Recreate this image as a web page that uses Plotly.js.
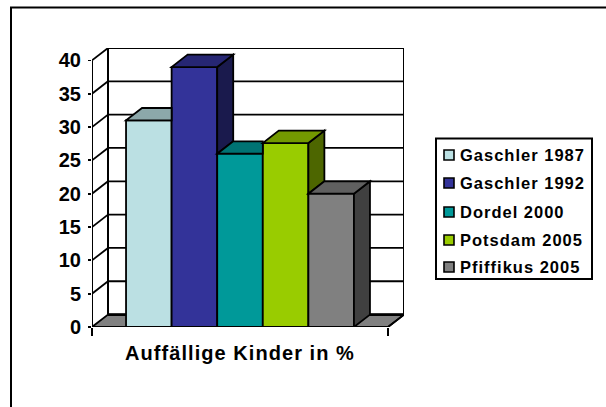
<!DOCTYPE html>
<html>
<head>
<meta charset="utf-8">
<script src="https://cdn.plot.ly/plotly-3.0.1.min.js"></script>
<style>html,body{margin:0;padding:0;background:#fff}#chart{width:606px;height:407px}
.xtick text{letter-spacing:1.05px}
.annotation-text{letter-spacing:1px}
</style>
</head>
<body>
<div id="chart"></div>
<script>
const category = "Auffällige Kinder in %";
const seriesNames = ["Gaschler 1987","Gaschler 1992","Dordel 2000","Potsdam 2005","Pfiffikus 2005"];
const seriesValues = [31, 39, 26, 27.6, 20];
const frontColors = ["#BBE0E3","#333399","#009999","#99CC00","#808080"];
const topColors   = ["#8CA8AA","#262673","#007373","#739900","#606060"];
const sideColors  = ["#5E7072","#1A1A4D","#004D4D","#4D6600","#404040"];
const yTicks = [0,5,10,15,20,25,30,35,40];

// plot frame in pixels
const L=92, R=404, T=48, B=327, W=606, H=407;
const frontW=296, depthPxX=16, depthPxY=12.4, unitPx=(327-60.7)/40;
const dx=depthPxX/frontW, dy=depthPxY/unitPx;
const bargap=0.23, bw=(1-bargap)/seriesNames.length;
const edge={color:"#000",width:1.8};
const xl=i=>-0.5+bargap/2+i*bw, xr=i=>xl(i)+bw;
const poly=p=>"M"+p.map(q=>q[0]+" "+q[1]).join(" L")+" Z";
const shape=(p,fill,layer,line)=>({type:"path",xref:"x",yref:"y",path:poly(p),fillcolor:fill,line:line||edge,layer:layer});
const seg=(x0,y0,x1,y1,w)=>({type:"line",xref:"x",yref:"y",x0,y0,x1,y1,layer:"below",line:{color:"#000",width:w||1.8}});

const shapes=[];
// walls, floor, grid
shapes.push(shape([[-0.5,0],[0.5,0],[0.5+dx,dy],[-0.5+dx,dy]],"#808080","below"));
yTicks.forEach(v=>{
  if(v>0) shapes.push(seg(-0.5,v,-0.5+dx,v+dy));
  if(v>0 && v<40) shapes.push(seg(-0.5+dx,v+dy,0.5+dx,v+dy));
});
shapes.push(seg(-0.5+dx,40+dy,0.5+dx,40+dy,2));
shapes.push(seg(-0.5+dx,dy,0.5+dx,dy,2.6));
shapes.push(seg(-0.5+dx,dy,-0.5+dx,40+dy,2));
shapes.push(seg(0.5+dx,dy,0.5+dx,40+dy,2));
shapes.push(seg(-0.5,0,-0.5,40,2));
shapes.push(seg(-0.5,0,0.5,0,2));
shapes.push(seg(0.5,0,0.5+dx,dy));
// visible top and side faces of each bar
seriesValues.forEach((v,i)=>{
  const nx=seriesValues[i+1];
  const base=(nx===undefined)?0:nx;
  if(nx!==undefined && nx>=v){
    shapes.push(shape([[xl(i),v],[xr(i),v],[xr(i),v+dy],[xl(i)+dx,v+dy]],topColors[i],"above"));
  }else{
    shapes.push(shape([[xr(i),v],[xr(i)+dx,v+dy],[xr(i)+dx,base+dy],[xr(i),base]],sideColors[i],"above"));
    shapes.push(shape([[xl(i),v],[xr(i),v],[xr(i)+dx,v+dy],[xl(i)+dx,v+dy]],topColors[i],"above"));
  }
});
// chart-area edge and legend frame
const px=(x)=>(x-L)/(R-L), py=(y)=>(B-y)/(B-T);
const rect=(x0,y0,x1,y1,fill,w)=>({type:"rect",xref:"paper",yref:"paper",x0:px(x0),x1:px(x1),y0:py(y0),y1:py(y1),fillcolor:fill,line:{color:"#000",width:w},layer:"above"});
const pline=(x0,y0,x1,y1,w)=>({type:"line",xref:"paper",yref:"paper",x0:px(x0),x1:px(x1),y0:py(y0),y1:py(y1),line:{color:"#000",width:w},layer:"above"});
shapes.push(pline(10,7.5,606,7.5,2));
shapes.push(pline(11,7,11,407,2));
shapes.push(rect(436,138.5,592,279,"#fff",2));
const annotations=[];
const rowY=[155,183,212,240,267];
seriesNames.forEach((n,i)=>{
  shapes.push(rect(444,rowY[i]-5,454,rowY[i]+5,frontColors[i],1.6));
  annotations.push({xref:"paper",yref:"paper",x:px(460),y:py(rowY[i]),xanchor:"left",yanchor:"middle",showarrow:false,xshift:-2,
    text:n,font:{family:"Liberation Sans",size:16.5,color:"#000",weight:700}});
});

const traces=seriesNames.map((n,i)=>({type:"bar",name:n,x:[0],y:[seriesValues[i]],
  marker:{color:frontColors[i],line:{color:"#000",width:1.8}},hoverinfo:"name+y"}));

Plotly.newPlot("chart",traces,{
  width:W,height:H,autosize:false,showlegend:false,
  paper_bgcolor:"#fff",plot_bgcolor:"rgba(0,0,0,0)",
  margin:{l:L,r:W-R,t:T,b:H-B,pad:0},
  barmode:"group",bargap:bargap,bargroupgap:0,
  xaxis:{type:"linear",range:[-0.5,0.5+dx],tickmode:"array",tickvals:[0],ticktext:[category],ticks:"",
    ticklabelstandoff:12,showgrid:false,zeroline:false,showline:false,
    tickfont:{family:"Liberation Sans",size:20,color:"#000",weight:700},
    minor:{tickmode:"array",tickvals:[-0.5,0.5],ticks:"outside",ticklen:8,tickwidth:1.8,tickcolor:"#000",showgrid:false}},
  yaxis:{range:[0,40+dy],tickmode:"array",tickvals:yTicks,ticks:"outside",ticklen:3,tickwidth:1.8,tickcolor:"#000",
    ticklabelstandoff:3,showgrid:false,zeroline:false,showline:false,
    tickfont:{family:"Liberation Sans",size:20,color:"#000",weight:700}},
  shapes:shapes,annotations:annotations
},{displayModeBar:false,staticPlot:true});
</script>
</body>
</html>
